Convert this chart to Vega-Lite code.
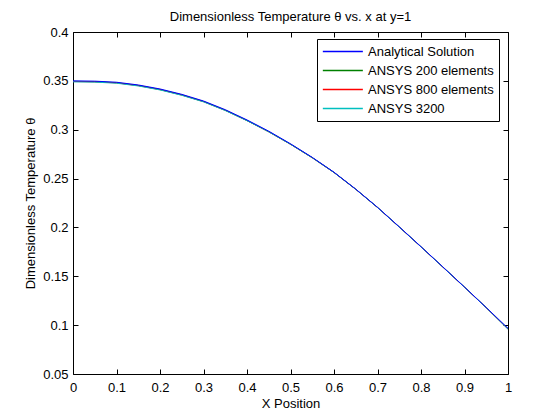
{
  "$schema": "https://vega.github.io/schema/vega-lite/v6.json",
  "autosize": {"type": "none"},
  "padding": {"left": 73, "top": 32, "right": 52, "bottom": 46},
  "width": 435,
  "height": 342,
  "background": "white",
  "title": {"text": "Dimensionless Temperature θ vs. x at y=1", "fontSize": 13, "fontWeight": "normal", "font": "Liberation Sans", "color": "black", "anchor": "middle", "baseline": "alphabetic", "offset": -8},
  "config": {
    "view": {"stroke": "black", "strokeWidth": 1},
    "axis": {"domain": false, "grid": false, "tickColor": "black", "tickSize": -5, "tickWidth": 1, "labelColor": "black", "labelFont": "Liberation Sans", "labelFontSize": 13, "titleFont": "Liberation Sans", "titleFontSize": 13, "titleFontWeight": "normal", "titleColor": "black", "minExtent": 0, "maxExtent": 0}
  },
  "data": {"values": [
    {"x": 0.00, "theta": 0.3495, "series": "ANSYS 200 elements"},
    {"x": 0.05, "theta": 0.3492, "series": "ANSYS 200 elements"},
    {"x": 0.10, "theta": 0.3481, "series": "ANSYS 200 elements"},
    {"x": 0.15, "theta": 0.3453, "series": "ANSYS 200 elements"},
    {"x": 0.20, "theta": 0.3412, "series": "ANSYS 200 elements"},
    {"x": 0.25, "theta": 0.3357, "series": "ANSYS 200 elements"},
    {"x": 0.30, "theta": 0.3289, "series": "ANSYS 200 elements"},
    {"x": 0.35, "theta": 0.3200, "series": "ANSYS 200 elements"},
    {"x": 0.40, "theta": 0.3095, "series": "ANSYS 200 elements"},
    {"x": 0.45, "theta": 0.2980, "series": "ANSYS 200 elements"},
    {"x": 0.50, "theta": 0.2852, "series": "ANSYS 200 elements"},
    {"x": 0.55, "theta": 0.2714, "series": "ANSYS 200 elements"},
    {"x": 0.60, "theta": 0.2563, "series": "ANSYS 200 elements"},
    {"x": 0.65, "theta": 0.2391, "series": "ANSYS 200 elements"},
    {"x": 0.70, "theta": 0.2205, "series": "ANSYS 200 elements"},
    {"x": 0.75, "theta": 0.2005, "series": "ANSYS 200 elements"},
    {"x": 0.80, "theta": 0.1802, "series": "ANSYS 200 elements"},
    {"x": 0.85, "theta": 0.1596, "series": "ANSYS 200 elements"},
    {"x": 0.90, "theta": 0.1389, "series": "ANSYS 200 elements"},
    {"x": 0.95, "theta": 0.1179, "series": "ANSYS 200 elements"},
    {"x": 1.00, "theta": 0.0962, "series": "ANSYS 200 elements"},
    {"x": 0.00, "theta": 0.3493, "series": "ANSYS 800 elements"},
    {"x": 0.05, "theta": 0.3490, "series": "ANSYS 800 elements"},
    {"x": 0.10, "theta": 0.3479, "series": "ANSYS 800 elements"},
    {"x": 0.15, "theta": 0.3451, "series": "ANSYS 800 elements"},
    {"x": 0.20, "theta": 0.3410, "series": "ANSYS 800 elements"},
    {"x": 0.25, "theta": 0.3355, "series": "ANSYS 800 elements"},
    {"x": 0.30, "theta": 0.3287, "series": "ANSYS 800 elements"},
    {"x": 0.35, "theta": 0.3198, "series": "ANSYS 800 elements"},
    {"x": 0.40, "theta": 0.3093, "series": "ANSYS 800 elements"},
    {"x": 0.45, "theta": 0.2978, "series": "ANSYS 800 elements"},
    {"x": 0.50, "theta": 0.2851, "series": "ANSYS 800 elements"},
    {"x": 0.55, "theta": 0.2713, "series": "ANSYS 800 elements"},
    {"x": 0.60, "theta": 0.2562, "series": "ANSYS 800 elements"},
    {"x": 0.65, "theta": 0.2390, "series": "ANSYS 800 elements"},
    {"x": 0.70, "theta": 0.2204, "series": "ANSYS 800 elements"},
    {"x": 0.75, "theta": 0.2004, "series": "ANSYS 800 elements"},
    {"x": 0.80, "theta": 0.1801, "series": "ANSYS 800 elements"},
    {"x": 0.85, "theta": 0.1595, "series": "ANSYS 800 elements"},
    {"x": 0.90, "theta": 0.1388, "series": "ANSYS 800 elements"},
    {"x": 0.95, "theta": 0.1178, "series": "ANSYS 800 elements"},
    {"x": 1.00, "theta": 0.0960, "series": "ANSYS 800 elements"},
    {"x": 0.00, "theta": 0.3490, "series": "ANSYS 3200"},
    {"x": 0.05, "theta": 0.3487, "series": "ANSYS 3200"},
    {"x": 0.10, "theta": 0.3476, "series": "ANSYS 3200"},
    {"x": 0.15, "theta": 0.3448, "series": "ANSYS 3200"},
    {"x": 0.20, "theta": 0.3407, "series": "ANSYS 3200"},
    {"x": 0.25, "theta": 0.3352, "series": "ANSYS 3200"},
    {"x": 0.30, "theta": 0.3285, "series": "ANSYS 3200"},
    {"x": 0.35, "theta": 0.3196, "series": "ANSYS 3200"},
    {"x": 0.40, "theta": 0.3092, "series": "ANSYS 3200"},
    {"x": 0.45, "theta": 0.2978, "series": "ANSYS 3200"},
    {"x": 0.50, "theta": 0.2851, "series": "ANSYS 3200"},
    {"x": 0.55, "theta": 0.2713, "series": "ANSYS 3200"},
    {"x": 0.60, "theta": 0.2562, "series": "ANSYS 3200"},
    {"x": 0.65, "theta": 0.2390, "series": "ANSYS 3200"},
    {"x": 0.70, "theta": 0.2204, "series": "ANSYS 3200"},
    {"x": 0.75, "theta": 0.2004, "series": "ANSYS 3200"},
    {"x": 0.80, "theta": 0.1801, "series": "ANSYS 3200"},
    {"x": 0.85, "theta": 0.1595, "series": "ANSYS 3200"},
    {"x": 0.90, "theta": 0.1388, "series": "ANSYS 3200"},
    {"x": 0.95, "theta": 0.1178, "series": "ANSYS 3200"},
    {"x": 1.00, "theta": 0.0958, "series": "ANSYS 3200"},
    {"x": 0.00, "theta": 0.3500, "series": "Analytical Solution"},
    {"x": 0.05, "theta": 0.3497, "series": "Analytical Solution"},
    {"x": 0.10, "theta": 0.3486, "series": "Analytical Solution"},
    {"x": 0.15, "theta": 0.3458, "series": "Analytical Solution"},
    {"x": 0.20, "theta": 0.3417, "series": "Analytical Solution"},
    {"x": 0.25, "theta": 0.3362, "series": "Analytical Solution"},
    {"x": 0.30, "theta": 0.3294, "series": "Analytical Solution"},
    {"x": 0.35, "theta": 0.3205, "series": "Analytical Solution"},
    {"x": 0.40, "theta": 0.3100, "series": "Analytical Solution"},
    {"x": 0.45, "theta": 0.2985, "series": "Analytical Solution"},
    {"x": 0.50, "theta": 0.2856, "series": "Analytical Solution"},
    {"x": 0.55, "theta": 0.2717, "series": "Analytical Solution"},
    {"x": 0.60, "theta": 0.2565, "series": "Analytical Solution"},
    {"x": 0.65, "theta": 0.2392, "series": "Analytical Solution"},
    {"x": 0.70, "theta": 0.2206, "series": "Analytical Solution"},
    {"x": 0.75, "theta": 0.2006, "series": "Analytical Solution"},
    {"x": 0.80, "theta": 0.1803, "series": "Analytical Solution"},
    {"x": 0.85, "theta": 0.1597, "series": "Analytical Solution"},
    {"x": 0.90, "theta": 0.1390, "series": "Analytical Solution"},
    {"x": 0.95, "theta": 0.1180, "series": "Analytical Solution"},
    {"x": 1.00, "theta": 0.0968, "series": "Analytical Solution"}
  ]},
  "layer": [
    {
      "mark": {"type": "line", "strokeWidth": 1, "clip": true},
      "encoding": {
        "x": {"field": "x", "type": "quantitative", "scale": {"domain": [0, 1], "nice": false, "zero": false},
              "axis": {"orient": "bottom", "title": "X Position", "values": [0, 0.1, 0.2, 0.3, 0.4, 0.5, 0.6, 0.7, 0.8, 0.9, 1], "format": "~g", "labelPadding": 12, "labelFlush": false, "titleBaseline": "alphabetic", "titleY": 33}},
        "y": {"field": "theta", "type": "quantitative", "scale": {"domain": [0.05, 0.4], "nice": false, "zero": false},
              "axis": {"orient": "left", "title": "Dimensionless Temperature θ", "values": [0.05, 0.1, 0.15, 0.2, 0.25, 0.3, 0.35, 0.4], "format": "~g", "labelPadding": 10, "labelFlush": false, "titleBaseline": "alphabetic", "titleX": -39}},
        "color": {"field": "series", "type": "nominal",
                  "scale": {"domain": ["Analytical Solution", "ANSYS 200 elements", "ANSYS 800 elements", "ANSYS 3200"], "range": ["#0000FF", "#008000", "#FF0000", "#00BFBF"]},
                  "legend": {"title": null, "orient": "none", "legendX": 244, "legendY": 7, "symbolType": "M -1 0 H 5", "symbolSize": 178, "symbolStrokeWidth": 1.5, "symbolFillColor": "transparent", "labelFont": "Liberation Sans", "labelFontSize": 13, "labelColor": "black", "labelOffset": 31, "strokeColor": "black", "fillColor": "white", "padding": 5, "rowPadding": 4, "cornerRadius": 0, "labelLimit": 300}}
      }
    },
    {
      "mark": {"type": "line", "strokeOpacity": 0},
      "encoding": {
        "x": {"field": "x", "type": "quantitative", "axis": {"orient": "top", "labels": false, "title": null, "values": [0, 0.1, 0.2, 0.3, 0.4, 0.5, 0.6, 0.7, 0.8, 0.9, 1]}},
        "y": {"field": "theta", "type": "quantitative", "axis": {"orient": "right", "labels": false, "title": null, "values": [0.05, 0.1, 0.15, 0.2, 0.25, 0.3, 0.35, 0.4]}},
        "detail": {"field": "series"}
      }
    }
  ],
  "resolve": {"axis": {"x": "independent", "y": "independent"}}
}
